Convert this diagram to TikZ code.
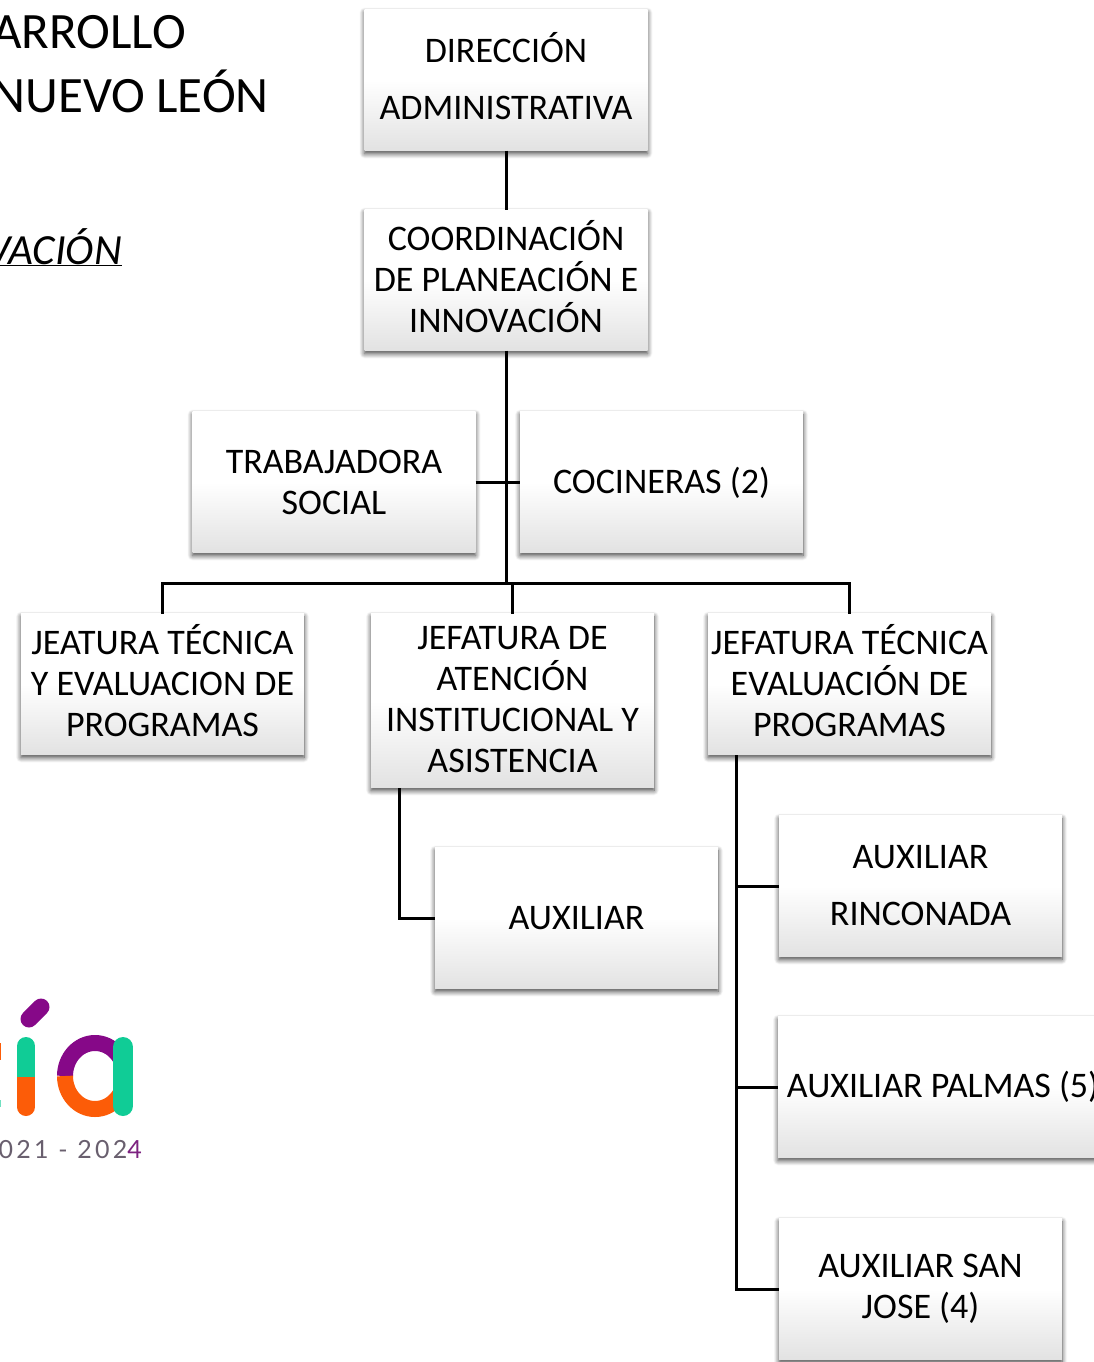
\documentclass[tikz,border=0pt]{standalone}
\usepackage{fontspec}
\setmainfont{Carlito}
\newfontfamily\yearfont[LetterSpace=13]{Lato}
\usetikzlibrary{positioning, calc, shadows.blur}
\definecolor{boxgray}{RGB}{226,226,226}
\definecolor{logogreen}{RGB}{16,204,150}
\definecolor{logoorange}{RGB}{252,92,8}
\definecolor{logopurple}{RGB}{134,8,136}
\definecolor{yeargray}{RGB}{105,95,110}

\begin{document}
\begin{tikzpicture}[
	  x=1pt, y=-1pt,
	  node_style/.style={
	  	rectangle,
	  	top color=white,
	  	bottom color=boxgray,
	  	middle color=white,
	  	align=center,
	  	text=black,
	  	inner sep=0pt,
	  	outer sep=0pt,
	  	minimum width=283pt,
	  	minimum height=141pt,
	  	font=\fontsize{36}{41}\selectfont,
	  	blur shadow={shadow xshift=0pt, shadow yshift=-3pt, shadow blur radius=5pt, shadow blur steps=8, shadow opacity=75}
	  },
	  title_style/.style={anchor=base east, inner sep=0pt, text=black, font=\fontsize{51}{60}\selectfont},
	  line_style/.style={draw=black, line width=3pt},
	  logo_bar/.style={line width=18pt, line cap=round}]
	\useasboundingbox (0,0) rectangle (1094,1362);
	\clip (0,0) rectangle (1094,1362);
	% Heading on the left
	\node[title_style] (titleone) at (186,49) {ARROLLO};
	\node[title_style] (titletwo) at (269,113) {NUEVO LEÓN};
	\node[title_style, font=\fontsize{43}{46}\selectfont\itshape] (titlethree) at (122,264) {\underline{VACIÓN}};
	% Boxes
	\node[node_style] (direccion) at (506,80) {DIRECCIÓN\\[16pt]ADMINISTRATIVA\\[-33pt]};
	\node[node_style, below=59pt of direccion] (coordinacion) {COORDINACIÓN\\DE PLANEACIÓN E\\INNOVACIÓN\\[-33pt]};
	\node[node_style, below=61pt of coordinacion, xshift=-172pt] (trabajadora) {TRABAJADORA\\SOCIAL};
	\node[node_style, below=61pt of coordinacion, xshift=155.5pt] (cocineras) {COCINERAS (2)\\[-37pt]};
	\node[node_style] (jeatura) at (162.5,684) {JEATURA TÉCNICA\\Y EVALUACION DE\\PROGRAMAS\\[-33pt]};
	\node[node_style, minimum height=174pt] (atencion) at (512.5,700.5) {JEFATURA DE\\ATENCIÓN\\INSTITUCIONAL Y\\ASISTENCIA\\[-39pt]};
	\node[node_style] (evaluacion) at (849.5,684) {JEFATURA TÉCNICA\\EVALUACIÓN DE\\PROGRAMAS\\[-33pt]};
	\node[node_style] (auxiliar) at (576.5,918) {AUXILIAR};
	\node[node_style] (rinconada) at (920.5,886) {AUXILIAR\\[16pt]RINCONADA\\[-39pt]};
	\node[node_style, minimum width=330pt] (palmas) at (943,1087) {AUXILIAR PALMAS (5)};
	\node[node_style] (sanjose) at (920.5,1289) {AUXILIAR SAN\\JOSE (4)};
	% Connectors
	\coordinate (bus) at (506,583);
	\coordinate (atencionfoot) at (399,788);
	\coordinate (evaluacionfoot) at (736,755);
	\draw[line_style] (direccion) -- (coordinacion);
	\draw[line_style] (coordinacion) -- (bus);
	\draw[line_style] (trabajadora) -- (cocineras);
	\draw[line_style] (jeatura.north) |- (bus) -| (evaluacion.north);
	\draw[line_style] (atencion.north) -- (atencion.north |- bus);
	\draw[line_style] (atencionfoot) |- (auxiliar.west);
	\draw[line_style] (evaluacionfoot) |- (sanjose.west);
	\draw[line_style] (evaluacionfoot |- rinconada.west) -- (rinconada.west);
	\draw[line_style] (evaluacionfoot |- palmas.west) -- (palmas.west);
	% Logo
	\fill[logoorange] (0,1043) rectangle (1,1060);
	\fill[logogreen!60] (0,1100) rectangle (1,1107);
	\draw[logo_bar, logogreen] (26,1046) -- (26,1077);
	\draw[logo_bar, logoorange] (26,1107) -- (26,1077);
	\draw[logo_bar, logogreen, line cap=butt] (26,1077) -- (26,1060);
	\draw[line width=17pt, line cap=round, logopurple] (29,1019) -- (41,1007);
	\draw[line width=16pt, logopurple] (65,1076) arc[start angle=180, end angle=360, x radius=30, y radius=33];
	\draw[line width=16pt, logoorange] (65,1076) arc[start angle=180, end angle=0, x radius=30, y radius=33];
	\draw[line width=20pt, line cap=round, logogreen] (123,1047) -- (123,1106);
	\node[anchor=base east, inner sep=0pt, text=yeargray, font=\yearfont\fontsize{25}{28}\selectfont] (yearlabel) at (142,1158) {021 - 202\textcolor{logopurple!70!yeargray}{4}};
\end{tikzpicture}
\end{document}
